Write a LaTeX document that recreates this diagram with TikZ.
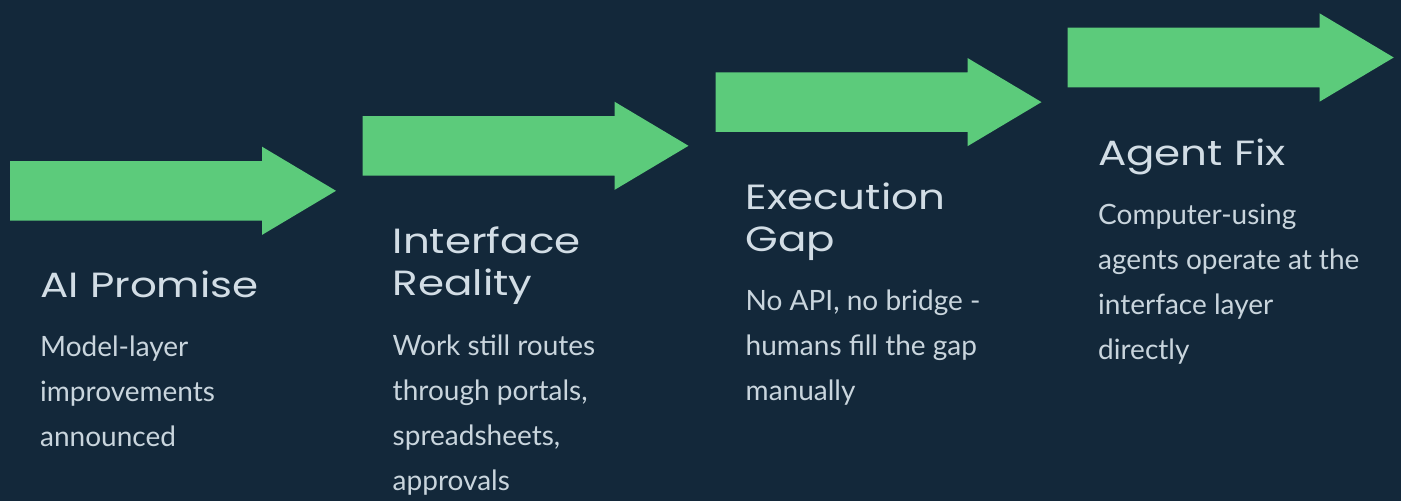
\documentclass[tikz,border=0pt]{standalone}
\usepackage{fontspec}
\setmainfont{Lato}
\newfontfamily\titlefont[FakeStretch=1.2]{Poppins}
\definecolor{bg}{HTML}{13283A}
\definecolor{arrowgreen}{HTML}{5CCB7B}
\definecolor{titlecol}{HTML}{D2DDE5}
\definecolor{bodycol}{HTML}{C9D5DD}
\newcommand\steplines[1]{\parbox[t]{320pt}{\raggedright #1}}
\tikzset{
  steptitle/.style={anchor=base west, inner sep=0pt, text=titlecol,
    font=\titlefont\fontsize{35}{42}\selectfont},
  stepbody/.style={anchor=base west, inner sep=0pt, text=bodycol,
    font=\fontsize{28}{45}\selectfont},
  stagearrow/.pic={
    \fill[arrowgreen] (0,0) -- (252,0) -- (252,-14.3) -- (326,29.8)
      -- (252,73.9) -- (252,59.6) -- (0,59.6) -- cycle;
  }
}
\begin{document}
\begin{tikzpicture}[x=1pt,y=-1pt]
\fill[bg] (0,0) rectangle (1401,501);
\useasboundingbox (0,0) rectangle (1401,501);

\pic at (10,161) {stagearrow};
\pic at (362.5,116) {stagearrow};
\pic at (715.5,72.3) {stagearrow};
\pic at (1067.7,27.7) {stagearrow};

\node[steptitle] (t1) at (40,297) {\steplines{AI Promise}};
\node[stepbody] (b1) at (40,356.5) {\steplines{Model-layer\\improvements\\announced}};

\node[steptitle] (t2) at (392.5,253.3) {\steplines{Interface\\Reality}};
\node[stepbody] (b2) at (392.5,355) {\steplines{Work still routes\\through portals,\\spreadsheets,\\approvals}};

\node[steptitle] (t3) at (745.5,209.3) {\steplines{Execution\\Gap}};
\node[stepbody] (b3) at (745.5,310) {\steplines{No API, no bridge -\\humans fill the gap\\manually}};

\node[steptitle] (t4) at (1098,165) {\steplines{Agent Fix}};
\node[stepbody] (b4) at (1098,224.5) {\steplines{Computer-using\\agents operate at the\\interface layer\\directly}};
\end{tikzpicture}
\end{document}
